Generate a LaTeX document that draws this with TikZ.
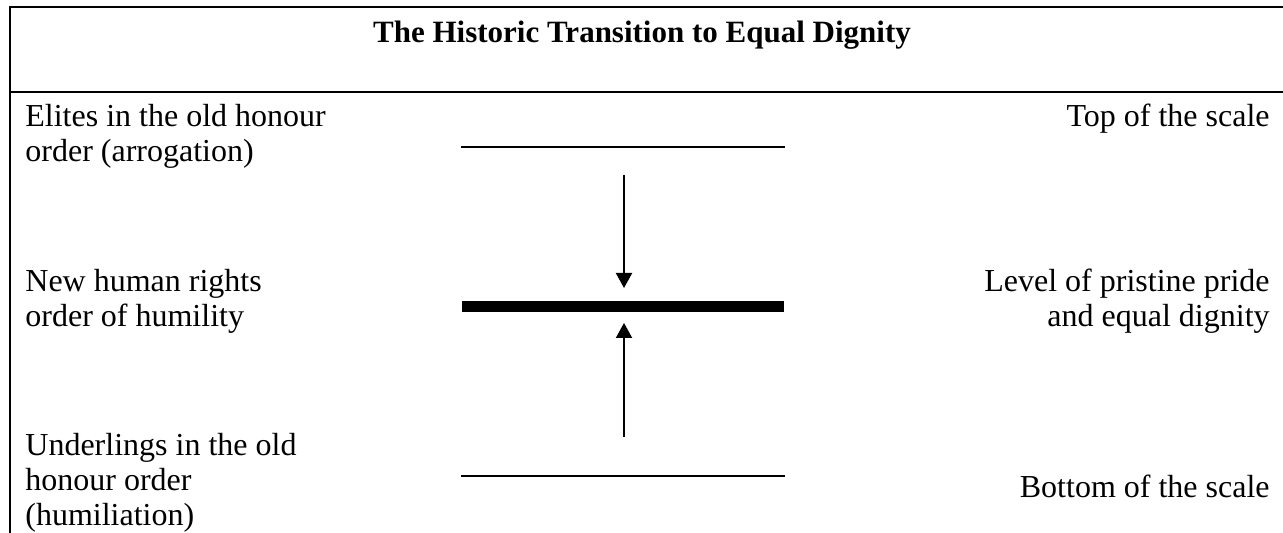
\documentclass[tikz,border=0pt]{standalone}
\usepackage{fontspec}
\setmainfont{Liberation Serif}
\usetikzlibrary{arrows.meta}
\begin{document}
\begin{tikzpicture}[x=0.5pt,y=-0.5pt,
	txt/.style={inner sep=0pt,font=\fontsize{16}{17.5}\selectfont},
	rule/.style={line width=1pt},
	push/.style={line width=1pt,-{Triangle[width=8pt,length=7.5pt]}}]
	\useasboundingbox (0,0) rectangle (1283,533);
	% table frame
	\begin{scope}
	\clip (0,0) rectangle (1283,533);
	\draw[rule] (10,540) -- (10,7) -- (1290,7);
	\draw[rule] (10,92) -- (1290,92);
	\end{scope}
	\node[txt,font=\bfseries\fontsize{15.5}{17}\selectfont,anchor=base] (title) at (642,43) {The Historic Transition to Equal Dignity};
	% left column (base = last line)
	\node[txt,align=left,anchor=base west] (elites) at (25,162) {Elites in the old honour\\order (arrogation)};
	\node[txt,align=left,anchor=base west] (rights) at (25,327) {New human rights\\order of humility};
	\node[txt,align=left,anchor=base west] (under) at (25,525) {Underlings in the old\\honour order\\(humiliation)};
	% right column
	\node[txt,align=right,anchor=base east] (top) at (1270,127) {Top of the scale};
	\node[txt,align=right,anchor=base east] (level) at (1270,327) {Level of pristine pride\\and equal dignity};
	\node[txt,align=right,anchor=base east] (bottom) at (1270,497) {Bottom of the scale};
	% the scale
	\coordinate (topL) at (461,147); \coordinate (topR) at (785,147);
	\coordinate (midL) at (462,307); \coordinate (midR) at (784,307);
	\coordinate (botL) at (461,476); \coordinate (botR) at (785,476);
	\draw[rule] (topL) -- (topR);
	\draw[line width=5.5pt] (midL) -- (midR);
	\draw[rule] (botL) -- (botR);
	\coordinate (dnA) at (624,175); \coordinate (dnB) at (624,288);
	\coordinate (upA) at (624,437); \coordinate (upB) at (624,323);
	\draw[push] (dnA) -- (dnB);
	\draw[push] (upA) -- (upB);
\end{tikzpicture}
\end{document}
